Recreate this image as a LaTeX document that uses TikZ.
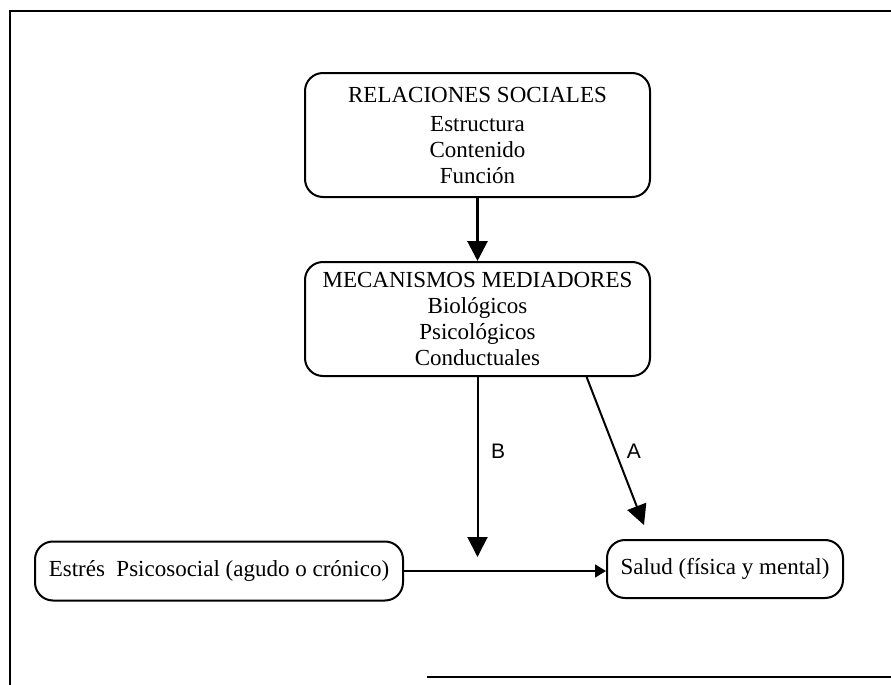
\documentclass[tikz,border=0pt]{standalone}
\usepackage{fontspec}
\setmainfont{Liberation Serif}
\setsansfont{Liberation Sans}
\usetikzlibrary{arrows.meta, positioning}

\begin{document}
\begin{tikzpicture}[
x=0.5pt, y=-0.5pt,
every node/.style={font=\fontsize{11.5}{13}\selectfont, align=center},
bloque/.style={rectangle, rounded corners=9pt, draw, line width=1pt, inner sep=0pt},
flecha/.style={-{Triangle[length=10pt, width=10pt]}, line width=1pt},
letra/.style={font=\sffamily\fontsize{10.5}{11}\selectfont}
]
\useasboundingbox (0,0) rectangle (891,685);

% marco
\draw[line width=1pt] (891,11) -- (10,11) -- (10,685);
\draw[line width=1pt] (427,677) -- (891,677);

\node[bloque, minimum width=172.5pt, minimum height=62pt] (rel) at (477.5,135)
  {RELACIONES SOCIALES\\[1.5pt] Estructura\\ Contenido\\ Función};
\node[bloque, minimum width=172.5pt, minimum height=57pt] (mec) at (477.5,319)
  {MECANISMOS MEDIADORES\\ Biológicos\\ Psicológicos\\ Conductuales};
\node[bloque, minimum width=184pt, minimum height=29.5pt] (est) at (219,571)
  {Estrés\ \ Psicosocial (agudo o crónico)};
\node[bloque, minimum width=118pt, minimum height=29pt] (sal) at (725,569)
  {Salud (física y mental)};

\coordinate (bEnd) at (477.5,557);
\coordinate (aEnd) at (644,525);

\draw[flecha, line width=1.5pt] (rel) -- (mec);
\draw[flecha] (mec.south) -- (bEnd) node[letra, pos=0.41, right=3pt] {B};
\draw[flecha] (mec.-28.6) -- (aEnd) node[letra, pos=0.5, right=2pt] {A};
\draw[-{Triangle[length=5.5pt, width=6.5pt]}, line width=0.75pt] (est.east) -- (est.east -| sal.west);

\end{tikzpicture}
\end{document}
